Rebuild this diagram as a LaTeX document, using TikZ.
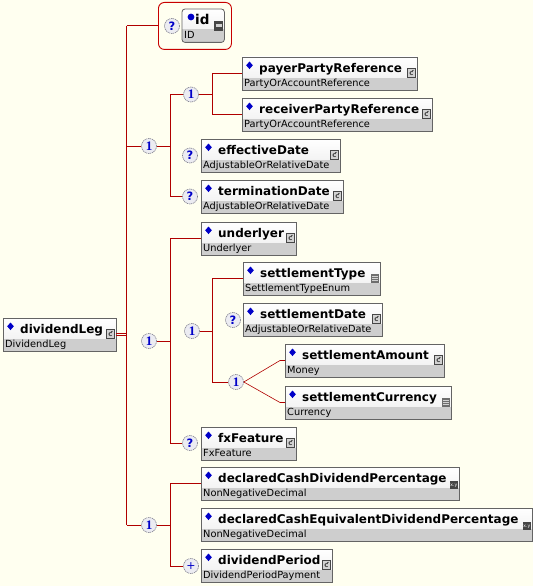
\documentclass[tikz,border=0pt]{standalone}
\usepackage{fontspec}
\setmainfont{DejaVu Sans}
\newfontfamily\serifnum{Liberation Serif}
\definecolor{bg}{RGB}{255,255,240}
\definecolor{wirered}{RGB}{176,0,0}
\definecolor{idred}{RGB}{200,0,0}
\definecolor{boxline}{RGB}{100,100,100}
\definecolor{typefill}{RGB}{206,206,206}
\definecolor{topfill}{RGB}{236,236,236}
\definecolor{markblue}{RGB}{0,0,200}
\definecolor{icondark}{RGB}{70,70,70}
\definecolor{iconmid}{RGB}{110,110,110}
\definecolor{iconlight}{RGB}{210,210,210}
\definecolor{compline}{RGB}{125,125,140}
\definecolor{compfill}{RGB}{236,236,242}

\newcommand\namefont{\fontsize{12}{14}\selectfont\bfseries}
\newcommand\typefont{\fontsize{9.8}{12}\selectfont}
\newcommand\seqone{{\serifnum\fontsize{13}{13}\selectfont\bfseries 1}}
\newcommand\qmark{{\fontsize{11.5}{11.5}\selectfont\bfseries ?}}
\newcommand\plusmark{{\fontsize{11}{11}\selectfont +}}

\tikzset{
  elbox/.style={anchor=north west, minimum height=33pt, inner sep=0pt, outer sep=0pt, top color=white, bottom color=topfill},
  namelabel/.style={anchor=base west, inner sep=0pt, font=\namefont},
  typelabel/.style={anchor=base west, inner sep=0pt, font=\typefont},
  comp/.style={circle, minimum size=15pt, inner sep=0pt, draw=compline, line width=0.6pt, dash pattern=on 1.2pt off 0.7pt, fill=compfill, text=markblue},
  wire/.style={draw=wirered, line width=0.9pt},
  thinwire/.style={draw=wirered, line width=0.6pt},
}

\newcommand\iconc[1]{%
  \draw[fill=iconlight, draw=icondark, line width=0.6pt] ([xshift=-10pt,yshift=-11.5pt]#1.north east) rectangle ([xshift=-1.3pt,yshift=-20.5pt]#1.north east);
  \node[inner sep=0pt, text=icondark, font=\fontsize{7}{7}\selectfont\bfseries] at ([xshift=-5.6pt,yshift=-16pt]#1.north east) {ƈ};
}
\newcommand\icone[1]{%
  \fill[iconmid] ([xshift=-9pt,yshift=-11.5pt]#1.north east) rectangle ([xshift=-1pt,yshift=-21pt]#1.north east);
  \foreach \k in {14,16.3,18.6} \draw[iconlight, line width=0.7pt] ([xshift=-7.8pt,yshift=-\k pt]#1.north east) -- ([xshift=-2.2pt,yshift=-\k pt]#1.north east);
}
\newcommand\icond[1]{%
  \fill[icondark] ([xshift=-9.5pt,yshift=-14pt]#1.north east) rectangle ([xshift=-1pt,yshift=-22pt]#1.north east);
  \node[inner sep=0pt, text=white, font=\fontsize{4.5}{5}\selectfont] at ([xshift=-5.2pt,yshift=-18.4pt]#1.north east) {x.y};
}

\newcommand\elem[7]{%
  \node[elbox, minimum width=#4pt] (#1) at (#2,#3) {};
  \fill[typefill] (#1.south west) rectangle ([yshift=12pt]#1.south east);
  \draw[boxline, line width=0.8pt] (#1.south west) rectangle (#1.north east);
  \fill[markblue] ([xshift=7.5pt,yshift=-4.5pt]#1.north west) -- ++(3.3pt,-3.8pt) -- ++(-3.3pt,-3.8pt) -- ++(-3.3pt,3.8pt) -- cycle;
  \node[namelabel] at ([xshift=17pt,yshift=-15pt]#1.north west) {#5};
  \node[typelabel] at ([xshift=2pt,yshift=-29pt]#1.north west) {#6};
  \csname icon#7\endcsname{#1}%
}

\begin{document}
\begin{tikzpicture}[x=1pt,y=-1pt]
\fill[bg] (0,0) rectangle (533,586);
\useasboundingbox (0,0) rectangle (533,586);

% element boxes
\elem{dl}{3}{318}{113}{dividendLeg}{DividendLeg}{c}
\elem{payer}{242}{57}{175}{payerPartyReference}{PartyOrAccountReference}{c}
\elem{receiver}{242}{98}{190}{receiverPartyReference}{PartyOrAccountReference}{c}
\elem{effective}{201}{139}{139}{effectiveDate}{AdjustableOrRelativeDate}{c}
\elem{termination}{201}{180}{142}{terminationDate}{AdjustableOrRelativeDate}{c}
\elem{underlyer}{201}{222}{95}{underlyer}{Underlyer}{c}
\elem{stype}{243}{262}{137}{settlementType}{SettlementTypeEnum}{e}
\elem{sdate}{243}{303}{139}{settlementDate}{AdjustableOrRelativeDate}{c}
\elem{samt}{285}{344}{159}{settlementAmount}{Money}{c}
\elem{scur}{285}{386}{166}{settlementCurrency}{Currency}{e}
\elem{fx}{201}{427}{95}{fxFeature}{FxFeature}{c}
\elem{dcash}{201}{467}{258}{declaredCashDividendPercentage}{NonNegativeDecimal}{d}
\elem{dcasheq}{201}{508}{331}{declaredCashEquivalentDividendPercentage}{NonNegativeDecimal}{d}
\elem{dper}{201}{549}{131}{dividendPeriod}{DividendPeriodPayment}{c}

% attribute id
\node[draw=idred, line width=0.9pt, rounded corners=6pt, minimum width=73pt, minimum height=47pt, anchor=north west, inner sep=0pt] (idgrp) at (158,2) {};
\node[anchor=north west, minimum width=42pt, minimum height=33pt, inner sep=0pt] (id) at (182,9) {};
\begin{scope}
  \clip[rounded corners=3pt] (id.south west) rectangle (id.north east);
  \fill[top color=white, bottom color=topfill] (id.south west) rectangle (id.north east);
  \fill[typefill] (id.south west) rectangle ([yshift=13pt]id.south east);
\end{scope}
\draw[boxline, line width=0.8pt, rounded corners=3pt] (id.south west) rectangle (id.north east);
\fill[markblue] ([xshift=9pt,yshift=-8pt]id.north west) circle (3.4pt);
\node[namelabel, font=\fontsize{13.5}{15}\selectfont\bfseries] at ([xshift=13pt,yshift=-16pt]id.north west) {id};
\node[typelabel] at ([xshift=2pt,yshift=-30pt]id.north west) {ID};
\fill[icondark] ([xshift=-10pt,yshift=-12pt]id.north east) rectangle ([xshift=-1pt,yshift=-22pt]id.north east);
\fill[iconlight] ([xshift=-8.5pt,yshift=-15.5pt]id.north east) rectangle ([xshift=-2.5pt,yshift=-18.5pt]id.north east);

% compositors
\node[comp] (qid) at (172,26) {\qmark};
\node[comp] (s1) at (149,146) {\seqone};
\node[comp] (s1a) at (191,94.5) {\seqone};
\node[comp] (qeff) at (190,155.5) {\qmark};
\node[comp] (qterm) at (190,196.5) {\qmark};
\node[comp] (s2) at (149,341) {\seqone};
\node[comp] (s2a) at (192,331) {\seqone};
\node[comp] (qsdate) at (233,320) {\qmark};
\node[comp] (s2b) at (236,382) {\seqone};
\node[comp] (qfx) at (190,443) {\qmark};
\node[comp] (s3) at (149,525) {\seqone};
\node[comp] (pdiv) at (191,566) {\plusmark};

% junction columns
\coordinate (vmain) at (126.5,0);
\coordinate (va) at (170,0);
\coordinate (vb) at (212,0);
\coordinate (kamt) at (280,360.5);
\coordinate (kcur) at (280,402.5);

% connectors
\draw[wire] ([yshift=1.2pt]dl.east) -- ([yshift=1.2pt]dl.east -| vmain);
\draw[wire] ([yshift=-1.2pt]dl.east) -- ([yshift=-1.2pt]dl.east -| vmain);
\draw[wire] (idgrp.west -| vmain) -- (s3 -| vmain);
\draw[wire] (idgrp.west -| vmain) -- (idgrp.west);
\draw[wire] (s1 -| vmain) -- (s1.west);
\draw[wire] (s1.east) -- (s1 -| va);
\draw[wire] (s1a -| va) -- (qterm -| va);
\draw[wire] (s1a -| va) -- (s1a.west);
\draw[wire] (s1a.east) -- (s1a -| vb);
\draw[wire] (payer.west -| vb) -- (receiver.west -| vb);
\draw[wire] (payer.west -| vb) -- (payer.west);
\draw[wire] (receiver.west -| vb) -- (receiver.west);
\draw[wire] (qterm -| va) -- (qterm.west);
\draw[wire] (s2.east) -- (s2 -| va);
\draw[wire] (underlyer.west -| va) -- (qfx -| va);
\draw[wire] (underlyer.west -| va) -- (underlyer.west);
\draw[wire] (s2a.east) -- (s2a -| vb);
\draw[wire] (stype.west -| vb) -- (s2b -| vb);
\draw[wire] (stype.west -| vb) -- (stype.west);
\draw[wire] (s2b -| vb) -- (s2b.west);
\draw[thinwire] (s2b.east) -- (kamt) -- (samt.west);
\draw[thinwire] (s2b.east) -- (kcur) -- (scur.west);
\draw[wire] (qfx -| va) -- (qfx.west);
\draw[wire] (s3 -| vmain) -- (s3.west);
\draw[wire] (s3.east) -- (s3 -| va);
\draw[wire] (dcash.west -| va) -- (pdiv -| va);
\draw[wire] (dcash.west -| va) -- (dcash.west);
\draw[wire] (pdiv -| va) -- (pdiv.west);
\end{tikzpicture}
\end{document}
